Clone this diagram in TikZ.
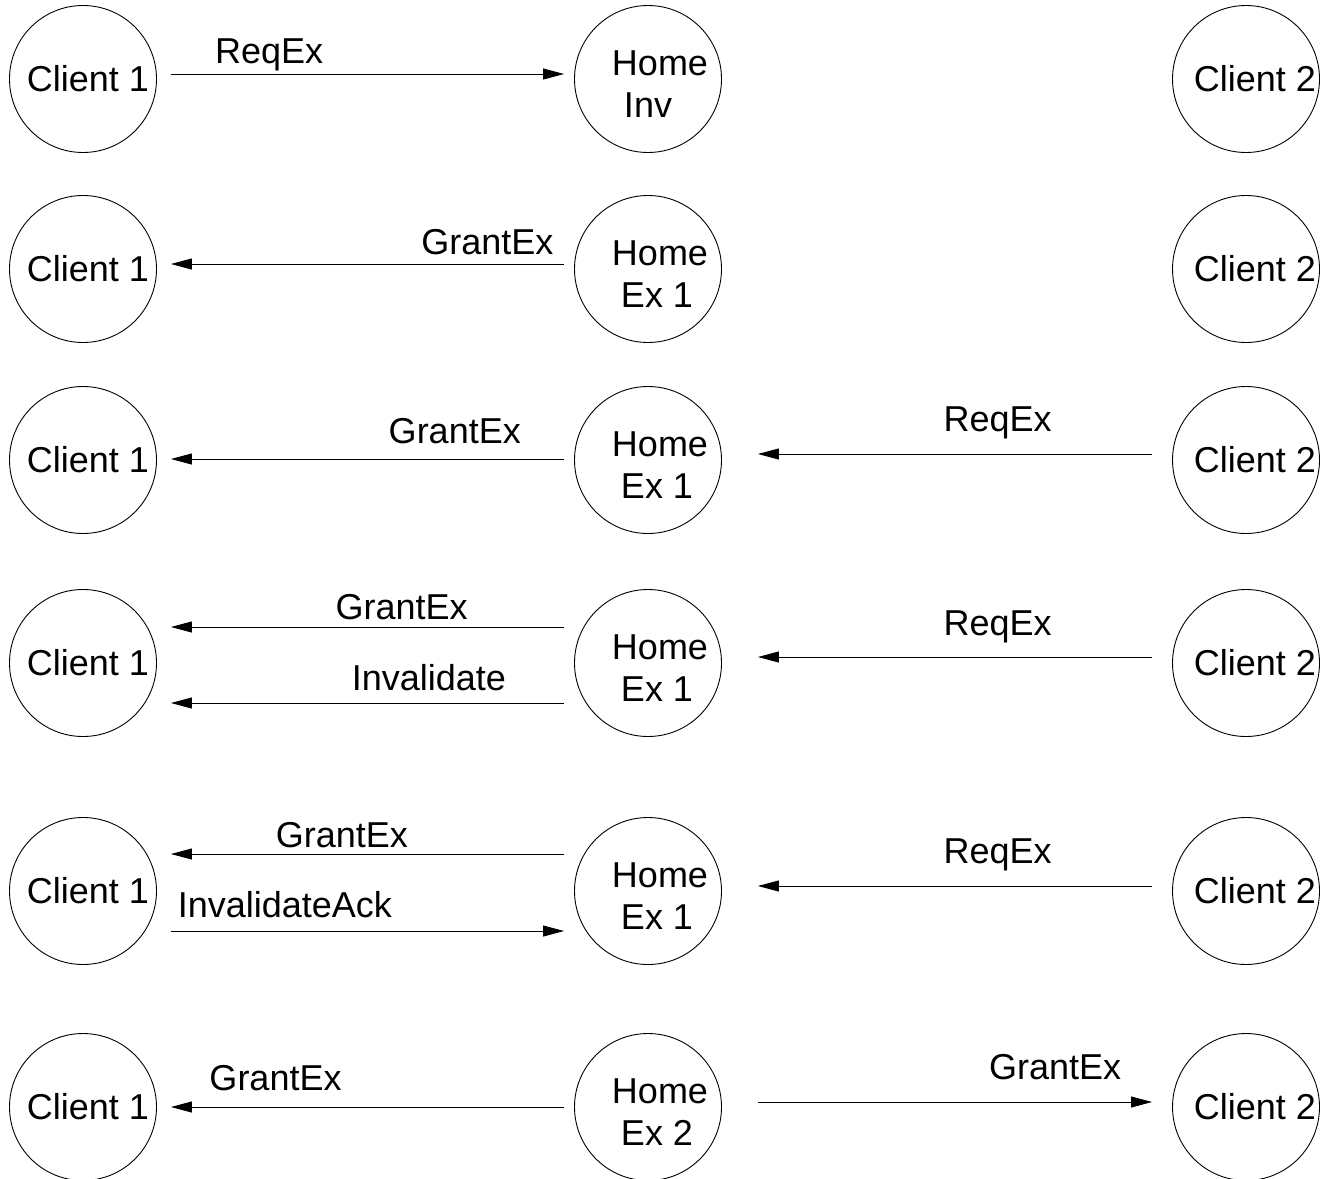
\documentclass[tikz,border=0pt]{standalone}
\usepackage{fontspec}
\setmainfont{Liberation Sans}
\usetikzlibrary{arrows.meta,calc}

\begin{document}
\begin{tikzpicture}[x=1pt,y=-1pt,line width=0.9pt,
  every node/.style={font=\fontsize{36}{42}\selectfont},
  agent/.style={draw,circle,minimum size=147pt,inner sep=0pt,align=center},
  home/.style={agent,text height=76pt},
  msg/.style={-{Triangle[length=21pt,width=11pt]}},
  lbl/.style={anchor=base,inner sep=0pt,draw=none}]
\clip (0,0) rectangle (1325,1178);
% step 1: client 1 asks for exclusive
\node[agent] (ca1) at (83,79) {\hspace*{10pt}Client 1};
\node[home] (hm1) at (648,79) {\hspace*{24pt}Home\\Inv};
\node[agent] (cb1) at (1246,79) {\hspace*{18pt}Client 2};
\draw[msg] ($(ca1.east)+(14,-5)$) -- ($(hm1.west)+(-10,-5)$) node[lbl,pos=0.25,yshift=11pt] {ReqEx};
% step 2
\node[agent] (ca2) at (83,269) {\hspace*{10pt}Client 1};
\node[home] (hm2) at (648,269) {\hspace*{24pt}Home\\\hspace*{18pt}Ex 1};
\node[agent] (cb2) at (1246,269) {\hspace*{18pt}Client 2};
\draw[msg] ($(hm2.west)+(-10,-5)$) -- ($(ca2.east)+(14,-5)$) node[lbl,pos=0.195,yshift=10pt] {GrantEx};
% step 3: client 2 asks too
\node[agent] (ca3) at (83,460) {\hspace*{10pt}Client 1};
\node[home] (hm3) at (648,460) {\hspace*{24pt}Home\\\hspace*{18pt}Ex 1};
\node[agent] (cb3) at (1246,460) {\hspace*{18pt}Client 2};
\draw[msg] ($(hm3.west)+(-10,-1)$) -- ($(ca3.east)+(14,-1)$) node[lbl,pos=0.278,yshift=16pt] {GrantEx};
\draw[msg] ($(cb3.west)+(-20,-6)$) -- ($(hm3.east)+(36,-6)$) node[lbl,pos=0.392,yshift=23pt] {ReqEx};
% step 4: home invalidates client 1
\node[agent] (ca4) at (83,663) {\hspace*{10pt}Client 1};
\node[home] (hm4) at (648,663) {\hspace*{24pt}Home\\\hspace*{18pt}Ex 1};
\node[agent] (cb4) at (1246,663) {\hspace*{18pt}Client 2};
\draw[msg] ($(hm4.west)+(-10,-36)$) -- ($(ca4.east)+(14,-36)$) node[lbl,pos=0.413,yshift=8pt] {GrantEx};
\draw[msg] ($(hm4.west)+(-10,40)$) -- ($(ca4.east)+(14,40)$) node[lbl,pos=0.344,yshift=13pt] {Invalidate};
\draw[msg] ($(cb4.west)+(-20,-6)$) -- ($(hm4.east)+(36,-6)$) node[lbl,pos=0.392,yshift=22pt] {ReqEx};
% step 5: ack comes back
\node[agent] (ca5) at (83,891) {\hspace*{10pt}Client 1};
\node[home] (hm5) at (648,891) {\hspace*{24pt}Home\\\hspace*{18pt}Ex 1};
\node[agent] (cb5) at (1246,891) {\hspace*{18pt}Client 2};
\draw[msg] ($(hm5.west)+(-10,-37)$) -- ($(ca5.east)+(14,-37)$) node[lbl,pos=0.565,yshift=7pt] {GrantEx};
\draw[msg] ($(ca5.east)+(14,40)$) -- ($(hm5.west)+(-10,40)$) node[lbl,pos=0.29,yshift=14pt] {InvalidateAck};
\draw[msg] ($(cb5.west)+(-20,-5)$) -- ($(hm5.east)+(36,-5)$) node[lbl,pos=0.392,yshift=23pt] {ReqEx};
% step 6: ownership moves to client 2
\node[agent] (ca6) at (83,1107) {\hspace*{10pt}Client 1};
\node[home] (hm6) at (648,1107) {\hspace*{24pt}Home\\\hspace*{18pt}Ex 2};
\node[agent] (cb6) at (1246,1107) {\hspace*{18pt}Client 2};
\draw[msg] ($(hm6.west)+(-10,0)$) -- ($(ca6.east)+(14,0)$) node[lbl,pos=0.734,yshift=17pt] {GrantEx};
\draw[msg] ($(hm6.east)+(36,-5)$) -- ($(cb6.west)+(-20,-5)$) node[lbl,pos=0.754,yshift=23pt] {GrantEx};
\end{tikzpicture}
\end{document}
